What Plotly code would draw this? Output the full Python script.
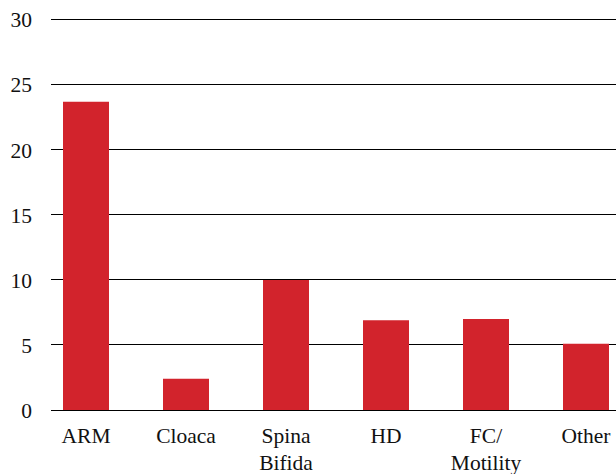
import plotly.graph_objects as go

categories = ["ARM", "Cloaca", "Spina<br>Bifida", "HD", "FC/<br>Motility", "Other"]
values = [23.7, 2.4, 10.0, 6.9, 7.0, 5.1]
y_ticks = [0, 5, 10, 15, 20, 25, 30]

fig = go.Figure(go.Bar(
    x=list(range(len(categories))), y=values,
    marker=dict(color="#D2232C", line=dict(width=0)),
    width=0.46,
))

font = dict(family="Liberation Serif, Times New Roman, serif", size=21.5, color="#111111")

fig.update_layout(
    width=616, height=474,
    margin=dict(l=51, r=0, t=18, b=64),
    paper_bgcolor="white", plot_bgcolor="white",
    font=font,
    showlegend=False,
    xaxis=dict(
        range=[-0.35, 5.3],
        tickmode="array", tickvals=list(range(len(categories))), ticktext=categories,
        showgrid=False, zeroline=False, showline=False, ticks="",
        tickfont=font, automargin=False, ticklabelstandoff=10,
    ),
    yaxis=dict(
        range=[0, 30.15], tickvals=y_ticks,
        showgrid=True, gridcolor="black", gridwidth=1,
        zeroline=True, zerolinecolor="black", zerolinewidth=1,
        showline=False, ticks="", ticklabelstandoff=18,
        tickfont=font, automargin=False,
    ),
)

fig.write_html(
    "out.html",
    config={"displayModeBar": False},
    post_script="document.body.style.margin='0';document.body.style.overflow='hidden';",
)
